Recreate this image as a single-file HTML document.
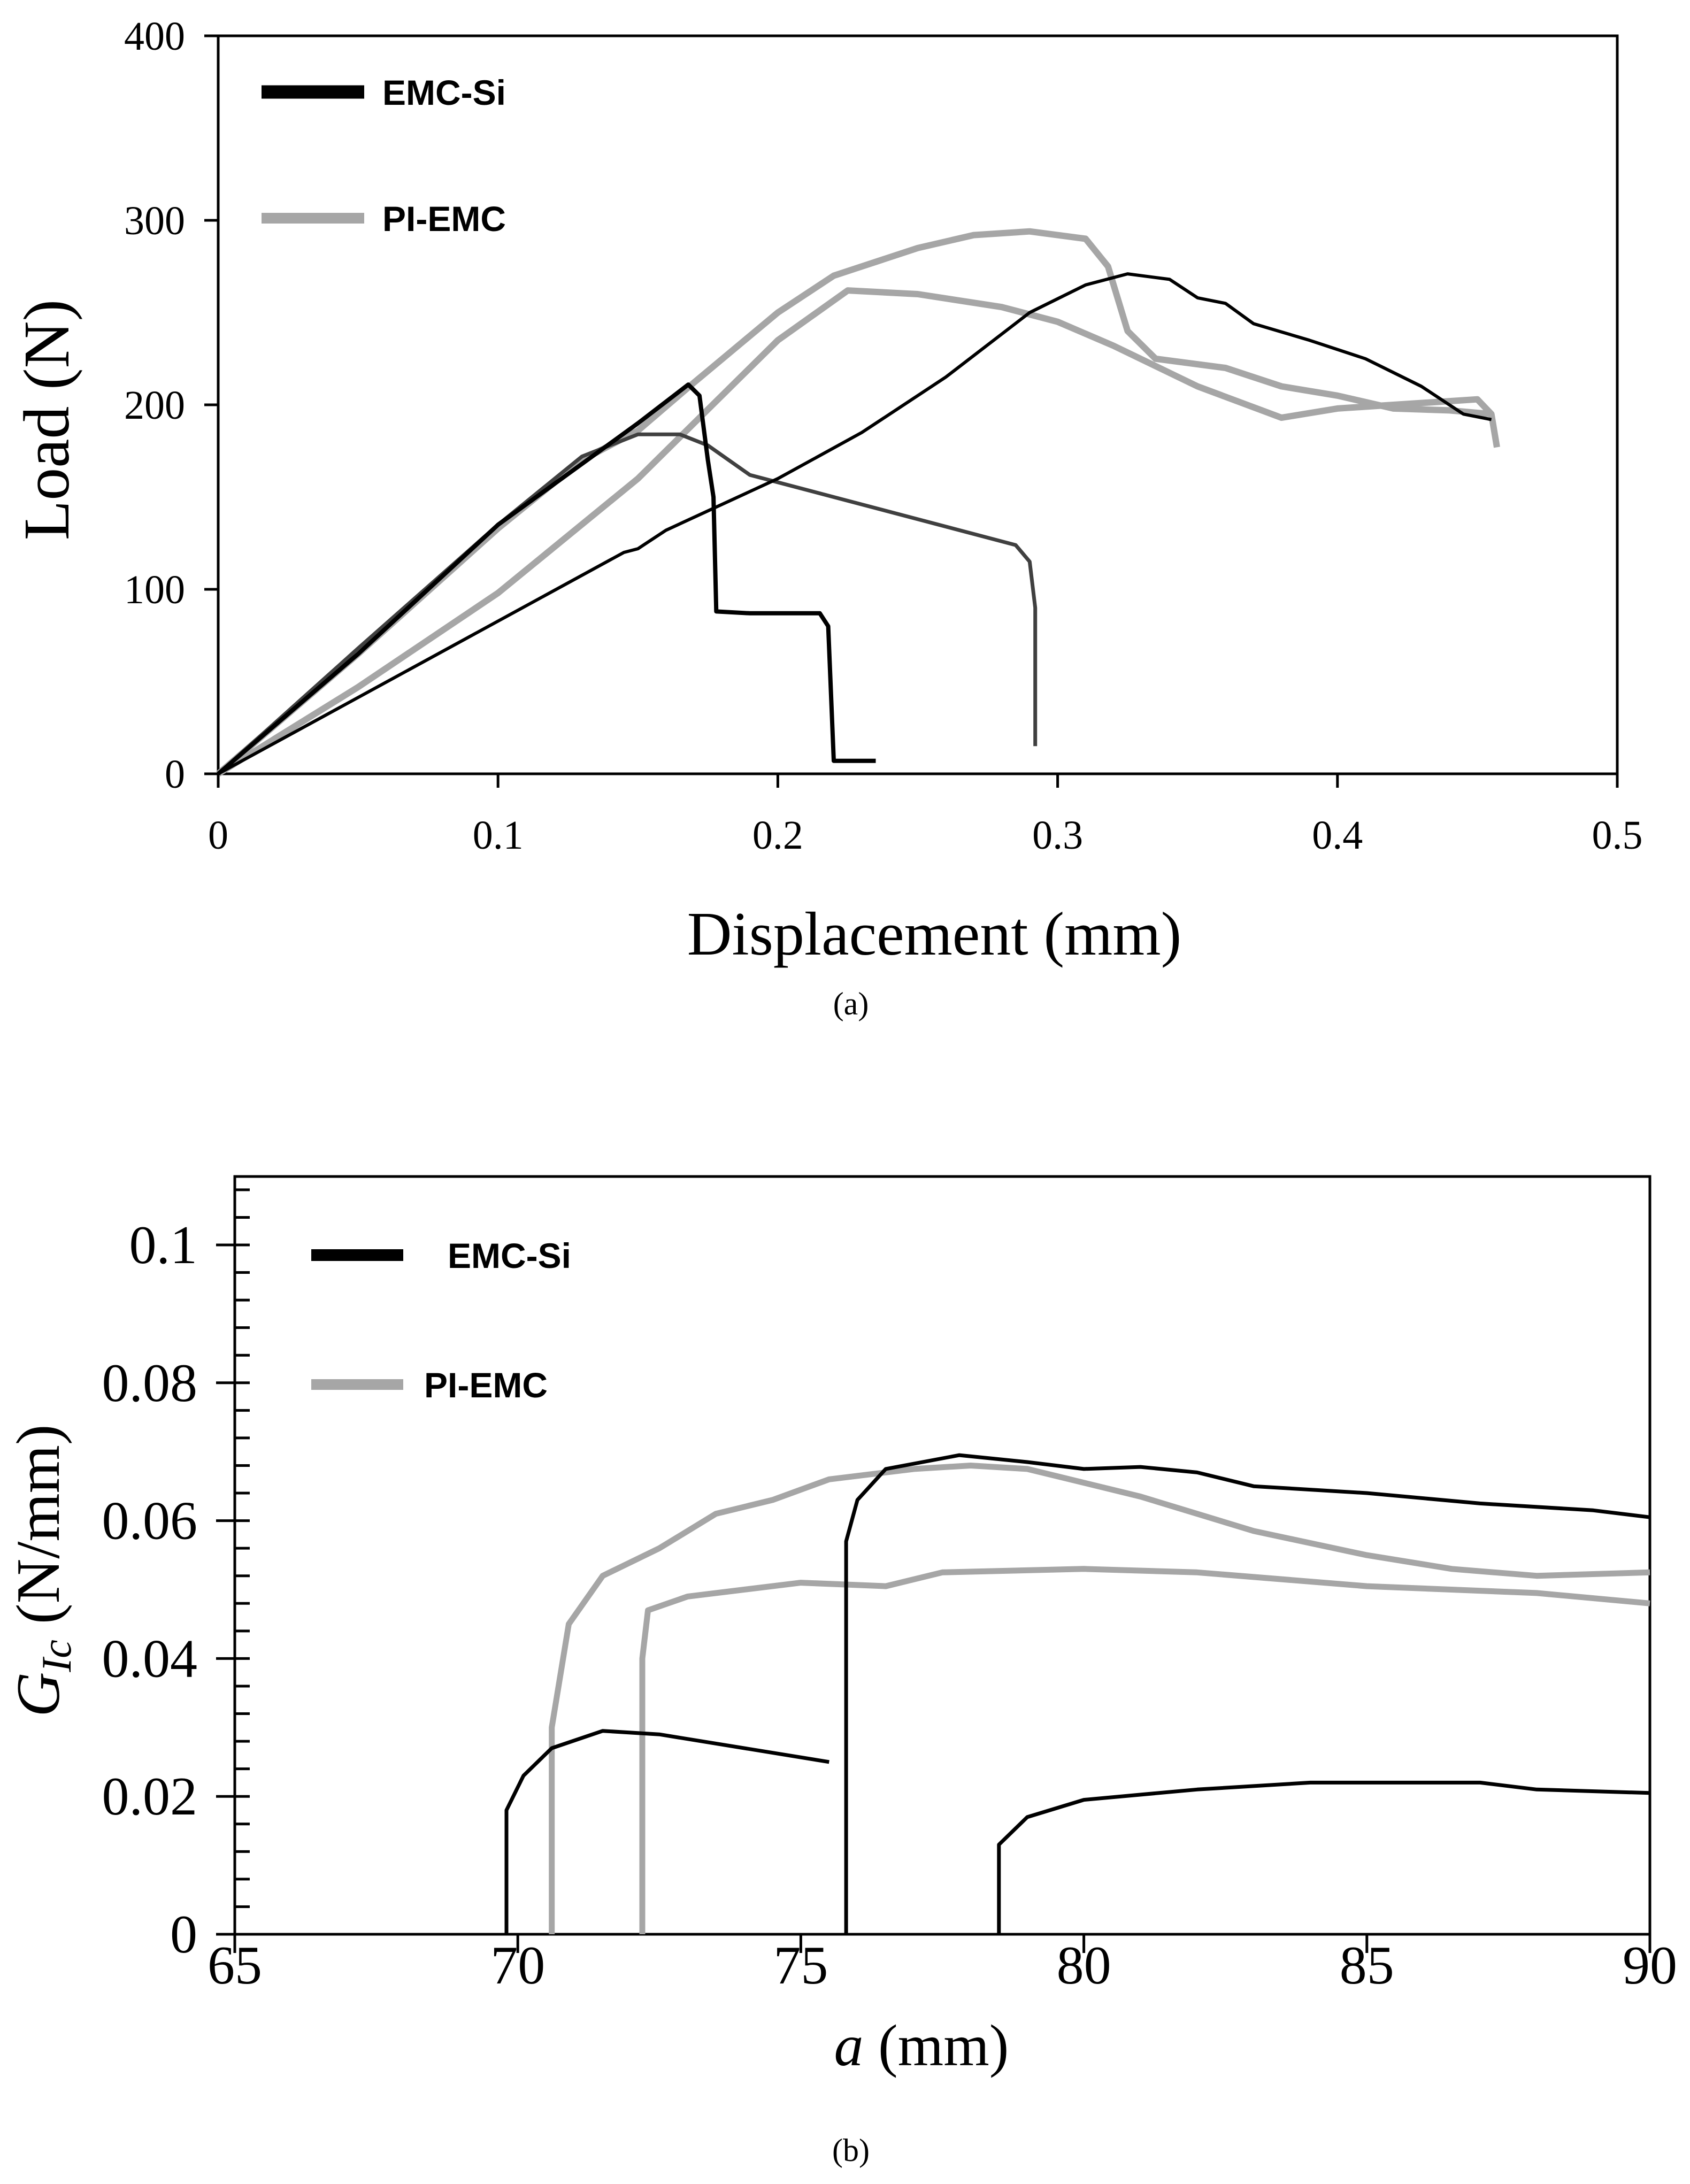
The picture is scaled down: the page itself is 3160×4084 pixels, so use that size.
<!DOCTYPE html>
<html><head><meta charset="utf-8"><style>
html,body{margin:0;padding:0;background:#fff}
svg{display:block}
.tick{font-family:"Liberation Serif",serif;fill:#000}
.leg{font-family:"Liberation Sans",sans-serif;font-weight:bold;fill:#000}
</style></head><body>
<svg id="fig" width="3160" height="4084" viewBox="0 0 3160 4084" xmlns="http://www.w3.org/2000/svg"></svg>
<script>
// ---- Chart (a) data ----
const aXTicks=[0,0.1,0.2,0.3,0.4,0.5];
const aYTicks=[0,100,200,300,400];
const aEmc1X=[0,0.05,0.1,0.15,0.168,0.172,0.175,0.177,0.178,0.19,0.215,0.218,0.22,0.235];
const aEmc1Y=[0,65,135,190,211,205,170,150,88,87,87,80,7,7];
const aEmc2X=[0,0.05,0.1,0.13,0.15,0.165,0.175,0.19,0.22,0.25,0.27,0.285,0.29,0.292,0.292];
const aEmc2Y=[0,68,135,172,184,184,178,162,150,138,130,124,115,90,15];
const aEmc3X=[0,0.145,0.15,0.16,0.2,0.23,0.26,0.29,0.31,0.325,0.34,0.35,0.36,0.37,0.39,0.41,0.43,0.445,0.455];
const aEmc3Y=[0,120,122,132,160,185,215,250,265,271,268,258,255,244,235,225,210,195,192];
const aPi1X=[0,0.05,0.1,0.13,0.15,0.17,0.2,0.22,0.25,0.27,0.29,0.31,0.318,0.325,0.335,0.36,0.38,0.4,0.42,0.44,0.455];
const aPi1Y=[0,65,133,170,186,212,250,270,285,292,294,290,275,240,225,220,210,205,198,197,195];
const aPi2X=[0,0.05,0.1,0.15,0.2,0.225,0.25,0.28,0.3,0.32,0.35,0.38,0.4,0.42,0.45,0.455,0.457];
const aPi2Y=[0,47,98,160,235,262,260,253,245,232,210,193,198,200,203,195,177];
// ---- Chart (b) data ----
const bXTicks=[65,70,75,80,85,90];
const bYTicks=[0,0.02,0.04,0.06,0.08,0.1];
const bYTickLabels=["0","0.02","0.04","0.06","0.08","0.1"];
const bEmc1X=[69.8,69.8,70.1,70.6,71.5,72.5,75.5];
const bEmc1Y=[0,0.018,0.023,0.027,0.0295,0.029,0.025];
const bEmc2X=[75.8,75.8,76.0,76.5,77.8,79,80,81,82,83,85,87,89,90];
const bEmc2Y=[0,0.057,0.063,0.0675,0.0695,0.0685,0.0675,0.0678,0.067,0.065,0.064,0.0625,0.0615,0.0605];
const bEmc3X=[78.5,78.5,79,80,82,84,87,88,90];
const bEmc3Y=[0,0.013,0.017,0.0195,0.021,0.022,0.022,0.021,0.0205];
const bPi1X=[70.6,70.6,70.9,71.5,72.5,73.5,74.5,75.5,77,78,79,81,83,85,86.5,88,90];
const bPi1Y=[0,0.03,0.045,0.052,0.056,0.061,0.063,0.066,0.0675,0.068,0.0675,0.0635,0.0585,0.055,0.053,0.052,0.0525];
const bPi2X=[72.2,72.2,72.3,73,75,76.5,77.5,80,82,85,88,90];
const bPi2Y=[0,0.04,0.047,0.049,0.051,0.0505,0.0525,0.053,0.0525,0.0505,0.0495,0.048];

const NS="http://www.w3.org/2000/svg";
const svg=document.getElementById('fig');
function mk(tag,attrs,parent){const e=document.createElementNS(NS,tag);for(const k in attrs)e.setAttribute(k,attrs[k]);(parent||svg).appendChild(e);return e;}
function txt(s,attrs,parent){const e=mk('text',attrs,parent);e.textContent=s;return e;}

function line(g,sx,sy,xs,ys,color,w,name){
  let d='';for(let i=0;i<xs.length;i++)d+=(i?'L':'M')+sx(xs[i]).toFixed(1)+' '+sy(ys[i]).toFixed(1);
  const p=mk('path',{d:d,fill:'none',stroke:color,'stroke-width':w,'stroke-linejoin':'round','stroke-linecap':'butt'},g);
  
  
}

// ===== Chart (a) =====
const aL=408,aR=3024,aT=67,aB=1447;
const ax=v=>aL+(v-0)/(0.5)*(aR-aL);
const ay=v=>aB-(v/400)*(aB-aT);
const ga=mk('g',{});


const fa=mk('rect',{x:aL,y:aT,width:aR-aL,height:aB-aT,fill:'none',stroke:'#000','stroke-width':5},ga);


aXTicks.forEach(v=>{
  const t=mk('line',{x1:ax(v),x2:ax(v),y1:aB,y2:aB+26,stroke:'#000','stroke-width':5},ga);
  
  
  const l=txt(String(v),{x:ax(v),y:aB+140,'text-anchor':'middle','font-size':76,class:'tick'},ga);
  
  
});
aYTicks.forEach(v=>{
  const t=mk('line',{x1:aL-26,x2:aL,y1:ay(v),y2:ay(v),stroke:'#000','stroke-width':5},ga);
  
  
  const l=txt(String(v),{x:aL-62,y:ay(v)+26,'text-anchor':'end','font-size':76,class:'tick'},ga);
  
  
});
line(ga,ax,ay,aPi1X,aPi1Y,'#a6a6a6',12,'series-pi-emc-1');
line(ga,ax,ay,aPi2X,aPi2Y,'#a6a6a6',12,'series-pi-emc-2');
line(ga,ax,ay,aEmc2X,aEmc2Y,'#404040',7,'series-emc-si-2');
line(ga,ax,ay,aEmc3X,aEmc3Y,'#000',6,'series-emc-si-3');
line(ga,ax,ay,aEmc1X,aEmc1Y,'#000',8,'series-emc-si-1');
let e;
e=mk('line',{x1:489,x2:681,y1:172,y2:172,stroke:'#000','stroke-width':25},ga);


e=txt('EMC-Si',{x:715,y:196,'font-size':66,class:'leg'},ga);


e=mk('line',{x1:489,x2:681,y1:408,y2:408,stroke:'#a6a6a6','stroke-width':20},ga);


e=txt('PI-EMC',{x:715,y:432,'font-size':66,class:'leg'},ga);


e=txt('Displacement (mm)',{x:1747,y:1785,'text-anchor':'middle','font-size':116,class:'tick'},ga);


e=txt('Load (N)',{x:0,y:0,'text-anchor':'middle','font-size':122,class:'tick',transform:'translate(128,785) rotate(-90)'},ga);


e=txt('(a)',{x:1591,y:1897,'text-anchor':'middle','font-size':60,class:'tick'},ga);



// ===== Chart (b) =====
const bL=439,bR=3085,bT=2200,bB=3617;
const bx=v=>bL+(v-65)/25*(bR-bL);
const by=v=>bB-(v/0.1)*(bB-2328);
const gb=mk('g',{});


e=mk('rect',{x:bL,y:bT,width:bR-bL,height:bB-bT,fill:'none',stroke:'#000','stroke-width':5},gb);


for(let i=1;i<=27;i++){
  const yy=by(i*0.004); if(yy<bT+5)break;
  const t=mk('line',{x1:bL,x2:bL+28,y1:yy,y2:yy,stroke:'#000','stroke-width':5},gb);
  
  
}
bXTicks.forEach(v=>{
  const t=mk('line',{x1:bx(v),x2:bx(v),y1:bB,y2:bB+35,stroke:'#000','stroke-width':5},gb);
  
  
  const l=txt(String(v),{x:bx(v),y:bB+92,'text-anchor':'middle','font-size':102,class:'tick'},gb);
  
  
});
bYTicks.forEach((v,i)=>{
  const t=mk('line',{x1:bL-35,x2:bL,y1:by(v),y2:by(v),stroke:'#000','stroke-width':5},gb);
  
  
  const l=txt(bYTickLabels[i],{x:bL-70,y:by(v)+34,'text-anchor':'end','font-size':102,class:'tick'},gb);
  
  
});
line(gb,bx,by,bPi1X,bPi1Y,'#a6a6a6',11,'series-pi-emc-1-b');
line(gb,bx,by,bPi2X,bPi2Y,'#a6a6a6',11,'series-pi-emc-2-b');
line(gb,bx,by,bEmc1X,bEmc1Y,'#000',7,'series-emc-si-1-b');
line(gb,bx,by,bEmc2X,bEmc2Y,'#000',7,'series-emc-si-2-b');
line(gb,bx,by,bEmc3X,bEmc3Y,'#000',7,'series-emc-si-3-b');
e=mk('line',{x1:582,x2:754,y1:2347,y2:2347,stroke:'#000','stroke-width':22},gb);


e=txt('EMC-Si',{x:837,y:2371,'font-size':66,class:'leg'},gb);


e=mk('line',{x1:582,x2:754,y1:2589,y2:2589,stroke:'#a6a6a6','stroke-width':20},gb);


e=txt('PI-EMC',{x:793,y:2613,'font-size':66,class:'leg'},gb);


const xt=txt('',{x:1723,y:3862,'text-anchor':'middle','font-size':110,class:'tick'},gb);


const t1=mk('tspan',{'font-style':'italic'},xt);t1.textContent='a';
const t2=mk('tspan',{},xt);t2.textContent=' (mm)';
const yt=txt('',{x:0,y:0,'text-anchor':'middle','font-size':116,class:'tick',transform:'translate(110,2937) rotate(-90)'},gb);


const s1=mk('tspan',{'font-style':'italic'},yt);s1.textContent='G';
const s2=mk('tspan',{'font-style':'italic','font-size':78,dy:22},yt);s2.textContent='Ic';
const s3=mk('tspan',{dy:-22},yt);s3.textContent=' (N/mm)';
e=txt('(b)',{x:1591,y:4041,'text-anchor':'middle','font-size':60,class:'tick'},gb);


</script>
</body></html>
